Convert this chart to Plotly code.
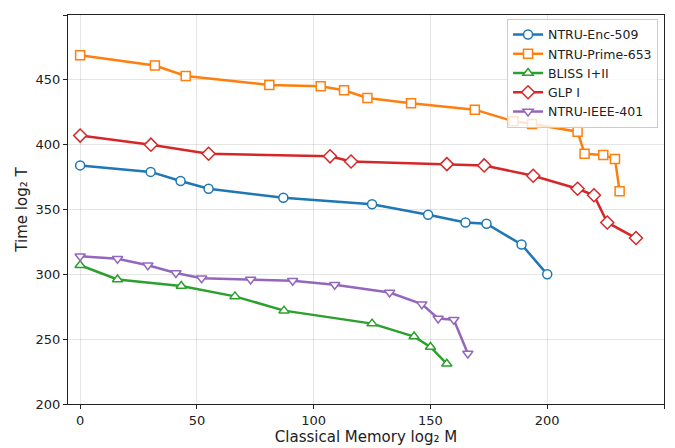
import plotly.graph_objects as go

enc_x = [0, 30.2, 43, 55, 87, 125, 149, 165, 174, 189, 200]
enc_y = [384, 379, 372, 366, 359, 354, 346, 340, 339, 323, 300]

prime_x = [0, 32, 45.2, 81, 103, 113, 123, 141.7, 169, 185.5, 193.5, 213, 216, 224, 229, 231]
prime_y = [469, 461, 453, 446, 445, 442, 436, 432, 427, 418, 416, 410, 393, 392, 389, 364]

bliss_x = [0, 16, 43.3, 66.3, 87.3, 125, 143, 150, 157]
bliss_y = [307, 296, 291, 283, 272, 262, 252, 244, 231]

glp_x = [0, 30.3, 55, 107, 116, 157, 173, 194, 213, 220, 225.7, 238]
glp_y = [407, 400, 393, 391, 387, 385, 384, 376, 366, 361, 340, 328]

ieee_x = [0, 16, 29, 41, 52, 73, 91, 109, 132.5, 146.3, 153.3, 160, 166]
ieee_y = [314, 312, 307, 301, 297, 296, 295, 292, 286, 277, 266, 265, 239]

series = [
    ("NTRU-Enc-509", enc_x, enc_y, "#1f77b4", "circle"),
    ("NTRU-Prime-653", prime_x, prime_y, "#ff7f0e", "square"),
    ("BLISS I+II", bliss_x, bliss_y, "#2ca02c", "triangle-up"),
    ("GLP I", glp_x, glp_y, "#d62728", "diamond"),
    ("NTRU-IEEE-401", ieee_x, ieee_y, "#9467bd", "triangle-down"),
]

fig = go.Figure()
for name, xs, ys, c, s in series:
    size = {"circle": 9, "square": 9, "triangle-up": 9, "diamond": 10, "triangle-down": 9}[s]
    fig.add_trace(go.Scatter(
        x=xs, y=ys, name=name, mode="lines+markers",
        line=dict(color=c, width=2.5),
        marker=dict(symbol=s, size=size, color="white", line=dict(color=c, width=1.5)),
    ))

axis_common = dict(
    showline=True, linecolor="#222222", linewidth=1.2, mirror=True,
    ticks="outside", ticklen=4, tickcolor="#222222",
    showgrid=True, gridcolor="rgba(0,0,0,0.1)", gridwidth=1,
    zeroline=False, tickfont=dict(size=13, color="#222222"), automargin=False,
)

# page body has an 8px default margin, so the figure is sized/offset to compensate
fig.update_layout(
    width=667, height=440,
    margin=dict(l=60, r=11, t=7, b=44),
    paper_bgcolor="white", plot_bgcolor="white",
    font=dict(family="DejaVu Sans", color="#222222"),
    xaxis=dict(range=[-5.2, 250], tickvals=[0, 50, 100, 150, 200, 250],
               title=dict(text="Classical Memory log₂ M", font=dict(size=15), standoff=4),
               **axis_common),
    yaxis=dict(range=[200, 500], tickvals=[200, 250, 300, 350, 400, 450, 500],
               title=dict(text="Time log₂ T", font=dict(size=15), standoff=4),
               **axis_common),
    legend=dict(x=0.99, y=0.99, xanchor="right", yanchor="top",
                bgcolor="rgba(255,255,255,0.8)", bordercolor="#cccccc", borderwidth=1,
                font=dict(size=12.5), tracegroupgap=0, itemwidth=30),
    showlegend=True,
)

fig.write_html("out.html")
